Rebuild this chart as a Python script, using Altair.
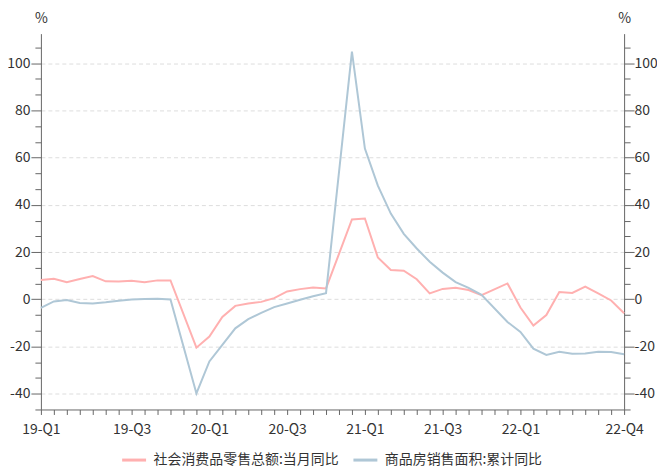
import altair as alt
import pandas as pd

# categories: monthly, Feb 2019 .. Nov 2022
months = (
    [f"2019-{m:02d}" for m in range(2, 13)]
    + [f"2020-{m:02d}" for m in range(1, 13)]
    + [f"2021-{m:02d}" for m in range(1, 13)]
    + [f"2022-{m:02d}" for m in range(1, 12)]
)

tick_labels = {
    "2019-02": "19-Q1", "2019-09": "19-Q3",
    "2020-03": "20-Q1", "2020-09": "20-Q3",
    "2021-03": "21-Q1", "2021-09": "21-Q3",
    "2022-03": "22-Q1", "2022-11": "22-Q4",
}

series_names = ["社会消费品零售总额:当月同比", "商品房销售面积:累计同比"]
series_colors = ["#ffb0b0", "#afc7d6"]

retail = [8.2, 8.7, 7.2, 8.6, 9.8, 7.6, 7.5, 7.8, 7.2, 8.0, 8.0,
          None, -20.5, -15.8, -7.5, -2.8, -1.8, -1.1, 0.5, 3.3, 4.3, 5.0, 4.6,
          None, 33.8, 34.2, 17.7, 12.4, 12.1, 8.5, 2.5, 4.4, 4.9, 3.9, 1.7,
          None, 6.7, -3.5, -11.1, -6.7, 3.1, 2.7, 5.4, 2.5, -0.5, -5.9]

housing = [-3.6, -0.9, -0.3, -1.6, -1.8, -1.3, -0.6, -0.1, 0.1, 0.2, -0.1,
           None, -39.9, -26.3, -19.3, -12.3, -8.4, -5.8, -3.3, -1.8, -0.2, 1.3, 2.6,
           None, 104.9, 63.8, 48.1, 36.3, 27.7, 21.5, 15.9, 11.3, 7.3, 4.8, 1.9,
           None, -9.6, -13.8, -20.9, -23.6, -22.2, -23.1, -23.0, -22.2, -22.3, -23.3]

y_domain = [-46.667, 112.5]
y_ticks = [round(-140 / 3 + i * 20 / 3, 4) for i in range(24)]

rows = []
for name, vals in zip(series_names, [retail, housing]):
    for mo, v in zip(months, vals):
        if v is not None:
            rows.append({"month": mo, "series": name, "value": v})
df = pd.DataFrame(rows)

label_expr = "".join(f"datum.value == '{k}' ? '{v}' : " for k, v in tick_labels.items()) + "''"
major_test = "abs(datum.value / 20 - round(datum.value / 20)) < 0.001"
ylabel_expr = f"{major_test} ? '' + round(datum.value) : ''"

FONT = "Noto Sans CJK SC"

x_enc = alt.X(
    "month:O",
    scale=alt.Scale(type="point", domain=months, padding=0),
    axis=alt.Axis(
        title=None, labelExpr=label_expr, labelOverlap=False, labelAngle=0,
        tickSize=5, labelPadding=8, labelFontSize=14, labelColor="#333",
        labelFont=FONT, domainColor="#666", tickColor="#666", grid=False,
    ),
)

def y_axis(orient, grid, pad):
    return alt.Axis(
        orient=orient, values=y_ticks, labelExpr=ylabel_expr,
        title="%", titleAngle=0, titleX=0, titleY=-15, titleAlign="center",
        titleBaseline="middle", titleFontWeight="normal", titleFontSize=14,
        titleColor="#333", titleFont=FONT, titlePadding=0,
        labelFontSize=14, labelColor="#333", labelFont=FONT, labelPadding=pad,
        domainColor="#666", tickColor="#666",
        tickSize={"condition": {"test": major_test, "value": 10}, "value": 6},
        grid=grid, gridColor="#dddddd", gridDash=[4, 3],
        gridOpacity={"condition": {"test": major_test, "value": 1}, "value": 0},
        labelOverlap=False, labelBound=False, labelFlush=False,
    )

color_enc = alt.Color(
    "series:N",
    scale=alt.Scale(domain=series_names, range=series_colors),
    legend=alt.Legend(
        title=None, orient="none", legendX=80, legendY=414, direction="horizontal",
        symbolType="stroke", symbolSize=576, symbolStrokeWidth=3,
        labelFontSize=14, labelColor="#333", labelFont=FONT, labelOffset=6,
        labelLimit=400, columnPadding=8, padding=0,
    ),
)

base = alt.Chart(df)
y_scale = alt.Scale(domain=y_domain, nice=False, zero=False)

pink = base.transform_filter(alt.datum.series == series_names[0]).mark_line(strokeWidth=2).encode(
    x=x_enc,
    y=alt.Y("value:Q", scale=y_scale, axis=y_axis("left", True, 1)),
    color=color_enc,
)
blue = base.transform_filter(alt.datum.series == series_names[1]).mark_line(strokeWidth=2).encode(
    x=x_enc,
    y=alt.Y("value:Q", scale=y_scale, axis=y_axis("left", True, 1)),
    color=color_enc,
)
left = alt.layer(pink, blue)

right = base.mark_line(opacity=0).encode(
    x=x_enc,
    y=alt.Y("value:Q", scale=y_scale, axis=y_axis("right", False, 0)),
    detail="series:N",
)

chart = alt.layer(left, right).resolve_scale(y="independent").properties(
    width=585, height=377,
    autosize=alt.AutoSizeParams(type="none"),
    padding={"left": 33, "top": 25, "right": 33, "bottom": 59},
    background="white",
).configure_view(stroke=None)

chart.save("out.html", embed_options={"renderer": "svg", "actions": False})
